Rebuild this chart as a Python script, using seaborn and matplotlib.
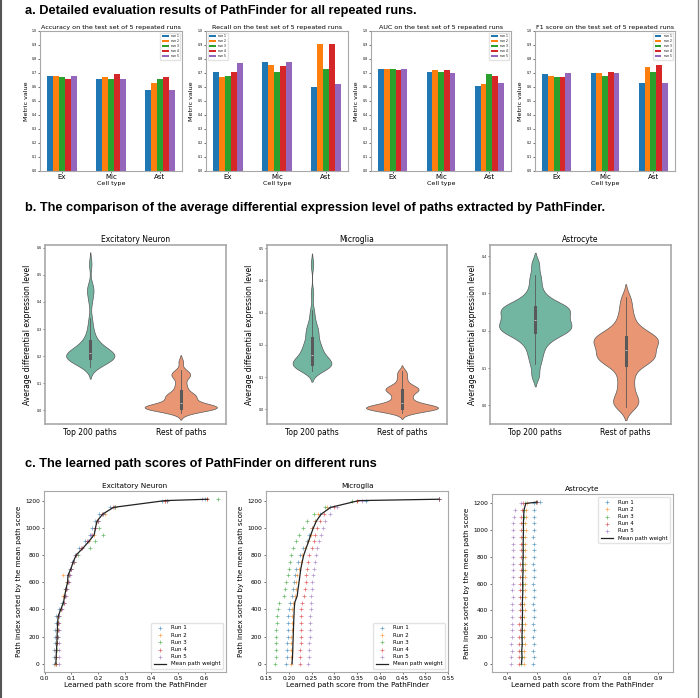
import numpy as np
import pandas as pd
import matplotlib
matplotlib.use("Agg")
import matplotlib.pyplot as plt
import seaborn as sns
from matplotlib.lines import Line2D

# --- data: panel a (bar charts) ---
cell_types = ["Ex", "Mic", "Ast"]
run_names = ["run 1", "run 2", "run 3", "run 4", "run 5"]

accuracy = [[0.68, 0.68, 0.67, 0.66, 0.68],
            [0.66, 0.67, 0.66, 0.69, 0.66],
            [0.58, 0.63, 0.66, 0.67, 0.58]]
recall = [[0.71, 0.67, 0.68, 0.71, 0.77],
          [0.78, 0.76, 0.71, 0.75, 0.78],
          [0.60, 0.91, 0.73, 0.91, 0.62]]
auc = [[0.73, 0.73, 0.73, 0.72, 0.73],
       [0.71, 0.72, 0.71, 0.72, 0.70],
       [0.61, 0.62, 0.69, 0.68, 0.63]]
f1 = [[0.69, 0.68, 0.67, 0.67, 0.70],
      [0.70, 0.70, 0.68, 0.71, 0.70],
      [0.63, 0.74, 0.71, 0.76, 0.63]]

# --- data: panel b (violins) ---
violin_groups = ["Top 200 paths", "Rest of paths"]
ex_top = [0.160, 0.165, 0.170, 0.174, 0.178, 0.181, 0.184, 0.187, 0.190, 0.192,
          0.194, 0.196, 0.198, 0.200, 0.201, 0.203, 0.205, 0.207, 0.209, 0.211,
          0.213, 0.216, 0.219, 0.222, 0.226, 0.230, 0.235, 0.240, 0.246, 0.252,
          0.262, 0.275, 0.290, 0.310, 0.340, 0.400, 0.430, 0.445, 0.460, 0.540]
ex_rest = [-0.010, -0.005, 0.000, 0.002, 0.004, 0.005, 0.006, 0.008, 0.009, 0.010,
           0.011, 0.012, 0.013, 0.014, 0.015, 0.016, 0.018, 0.020, 0.022, 0.025,
           0.030, 0.035, 0.040, 0.045, 0.050, 0.052, 0.055, 0.058, 0.062, 0.070,
           0.080, 0.090, 0.100, 0.115, 0.125, 0.130, 0.135, 0.140, 0.150, 0.180]
mic_top = [0.120, 0.123, 0.126, 0.128, 0.130, 0.132, 0.134, 0.136, 0.138, 0.140,
           0.142, 0.144, 0.146, 0.148, 0.150, 0.153, 0.156, 0.159, 0.162, 0.166,
           0.170, 0.175, 0.180, 0.185, 0.190, 0.195, 0.200, 0.205, 0.210, 0.220,
           0.230, 0.240, 0.240, 0.250, 0.260, 0.270, 0.290, 0.310, 0.360, 0.450]
mic_rest = [-0.012, -0.008, -0.005, -0.003, 0.000, 0.000, 0.001, 0.002, 0.003, 0.004,
            0.005, 0.006, 0.007, 0.008, 0.009, 0.010, 0.012, 0.014, 0.016, 0.018,
            0.020, 0.025, 0.030, 0.035, 0.040, 0.045, 0.050, 0.055, 0.058, 0.060,
            0.062, 0.065, 0.068, 0.070, 0.075, 0.080, 0.090, 0.100, 0.110, 0.120]
ast_top = [0.080, 0.110, 0.130, 0.145, 0.160, 0.170, 0.178, 0.185, 0.190, 0.195,
           0.198, 0.200, 0.203, 0.206, 0.210, 0.213, 0.216, 0.220, 0.223, 0.226,
           0.230, 0.234, 0.238, 0.242, 0.246, 0.250, 0.253, 0.256, 0.259, 0.262,
           0.265, 0.268, 0.272, 0.278, 0.285, 0.295, 0.310, 0.330, 0.350, 0.380]
ast_rest = [-0.005, 0.000, 0.008, 0.015, 0.025, 0.040, 0.055, 0.070, 0.085, 0.100,
            0.110, 0.115, 0.118, 0.122, 0.126, 0.130, 0.133, 0.136, 0.140, 0.145,
            0.150, 0.155, 0.160, 0.165, 0.168, 0.171, 0.174, 0.177, 0.180, 0.183,
            0.186, 0.190, 0.195, 0.200, 0.210, 0.220, 0.235, 0.250, 0.270, 0.290]

# --- data: panel c (path scores per run) ---
path_idx = [0, 50, 100, 150, 200, 250, 300, 350, 400, 450, 500, 550, 600,
            650, 700, 750, 800, 850, 900, 950, 1000, 1050, 1100, 1150, 1200, 1210]

ex_runs = [
    [0.033, 0.034, 0.036, 0.037, 0.039, 0.040, 0.041, 0.043, 0.052, 0.066, 0.072, 0.076, 0.082,
     0.088, 0.095, 0.102, 0.112, 0.130, 0.150, 0.170, 0.178, 0.188, 0.205, 0.245, 0.440, 0.600],
    [0.040, 0.041, 0.042, 0.044, 0.046, 0.047, 0.048, 0.050, 0.060, 0.072, 0.068, 0.080, 0.085,
     0.070, 0.098, 0.108, 0.118, 0.140, 0.165, 0.185, 0.190, 0.195, 0.225, 0.262, 0.450, 0.610],
    [0.042, 0.043, 0.044, 0.046, 0.048, 0.049, 0.050, 0.052, 0.062, 0.070, 0.077, 0.080, 0.086,
     0.092, 0.100, 0.110, 0.125, 0.170, 0.190, 0.220, 0.205, 0.200, 0.220, 0.265, 0.460, 0.650],
    [0.041, 0.042, 0.043, 0.045, 0.047, 0.048, 0.049, 0.051, 0.061, 0.071, 0.076, 0.079, 0.086,
     0.091, 0.098, 0.106, 0.116, 0.135, 0.160, 0.178, 0.188, 0.198, 0.215, 0.255, 0.450, 0.610],
    [0.052, 0.053, 0.054, 0.055, 0.050, 0.052, 0.053, 0.055, 0.065, 0.071, 0.080, 0.083, 0.089,
     0.094, 0.100, 0.108, 0.118, 0.140, 0.162, 0.175, 0.190, 0.200, 0.220, 0.260, 0.460, 0.590],
]
mic_runs = [
    [0.195, 0.196, 0.197, 0.197, 0.198, 0.198, 0.199, 0.199, 0.200, 0.202, 0.208, 0.210, 0.212,
     0.214, 0.216, 0.220, 0.225, 0.232, 0.240, 0.245, 0.250, 0.258, 0.268, 0.290, 0.370, 0.530],
    [0.204, 0.205, 0.205, 0.206, 0.206, 0.207, 0.207, 0.208, 0.208, 0.209, 0.213, 0.215, 0.217,
     0.219, 0.222, 0.226, 0.230, 0.236, 0.242, 0.248, 0.252, 0.258, 0.265, 0.285, 0.350, 0.530],
    [0.170, 0.171, 0.172, 0.172, 0.173, 0.173, 0.174, 0.175, 0.176, 0.178, 0.190, 0.192, 0.195,
     0.198, 0.200, 0.203, 0.205, 0.210, 0.215, 0.222, 0.232, 0.240, 0.255, 0.280, 0.340, 0.530],
    [0.224, 0.225, 0.225, 0.226, 0.226, 0.227, 0.227, 0.228, 0.228, 0.229, 0.233, 0.235, 0.237,
     0.238, 0.240, 0.242, 0.245, 0.250, 0.255, 0.258, 0.262, 0.268, 0.278, 0.300, 0.350, 0.530],
    [0.243, 0.244, 0.245, 0.245, 0.246, 0.246, 0.247, 0.247, 0.248, 0.248, 0.249, 0.250, 0.252,
     0.254, 0.255, 0.257, 0.260, 0.263, 0.266, 0.270, 0.275, 0.280, 0.290, 0.305, 0.360, 0.530],
]
ast_runs = [
    [0.486, 0.488, 0.487, 0.489, 0.486, 0.488, 0.487, 0.489, 0.488, 0.486, 0.488, 0.489, 0.487,
     0.488, 0.489, 0.487, 0.488, 0.489, 0.488, 0.487, 0.489, 0.488, 0.489, 0.488, 0.490, 0.510],
    [0.455, 0.457, 0.456, 0.458, 0.457, 0.456, 0.458, 0.457, 0.459, 0.457, 0.458, 0.460, 0.458,
     0.459, 0.460, 0.459, 0.460, 0.461, 0.460, 0.461, 0.462, 0.461, 0.462, 0.463, 0.465, 0.500],
    [0.447, 0.448, 0.447, 0.449, 0.448, 0.449, 0.450, 0.449, 0.450, 0.451, 0.450, 0.451, 0.452,
     0.451, 0.452, 0.452, 0.453, 0.452, 0.453, 0.454, 0.453, 0.454, 0.455, 0.455, 0.458, 0.495],
    [0.438, 0.440, 0.439, 0.441, 0.440, 0.442, 0.441, 0.442, 0.443, 0.442, 0.443, 0.444, 0.443,
     0.444, 0.445, 0.444, 0.445, 0.446, 0.445, 0.446, 0.447, 0.446, 0.447, 0.448, 0.452, 0.495],
    [0.413, 0.414, 0.415, 0.414, 0.416, 0.415, 0.416, 0.417, 0.416, 0.417, 0.418, 0.417, 0.418,
     0.419, 0.418, 0.419, 0.420, 0.419, 0.420, 0.421, 0.420, 0.421, 0.422, 0.425, 0.445, 0.500],
]

W, H = 700, 698
tab = sns.color_palette("tab10", 5)
SPINE = "#a8a8a8"
TITLE_FONT = ["Liberation Sans", "DejaVu Sans"]

plt.rcParams["font.family"] = "DejaVu Sans"
fig = plt.figure(figsize=(W / 100, H / 100), dpi=100)


def px_axes(left, top, right, bottom):
    return fig.add_axes([left / W, 1 - bottom / H, (right - left) / W, (bottom - top) / H])


def style_spines(ax, lw=0.8):
    for s in ax.spines.values():
        s.set_color(SPINE)
        s.set_linewidth(lw)


# ---------------- panel a ----------------
fig.text(25 / W, 1 - 11 / H, "a. Detailed evaluation results of PathFinder for all repeated runs.",
         fontsize=9.2, fontweight="bold", family=TITLE_FONT, va="center", ha="left")

bar_specs = [("Accuracy on the test set of 5 repeated runs", accuracy, (40, 182), "upper right"),
             ("Recall on the test set of 5 repeated runs", recall, (206, 348), "upper left"),
             ("AUC on the test set of 5 repeated runs", auc, (371, 511), "upper right"),
             ("F1 score on the test set of 5 repeated runs", f1, (535, 675), "upper right")]

for title, vals, (l, r), loc in bar_specs:
    ax = px_axes(l, 31, r, 171)
    rows = [{"cell": c, "run": run_names[j], "value": vals[i][j]}
            for i, c in enumerate(cell_types) for j in range(5)]
    df = pd.DataFrame(rows)
    sns.barplot(data=df, x="cell", y="value", hue="run", palette=tab, width=0.6,
                saturation=1, errorbar=None, ax=ax)
    ax.set_xlim(-0.45, 2.45)
    ax.set_ylim(0, 1.0)
    ax.set_yticks(np.arange(0, 1.01, 0.1))
    ax.set_yticklabels([f"{v:.1f}" for v in np.arange(0, 1.01, 0.1)])
    ax.tick_params(axis="y", labelsize=2.3, length=1.5, width=0.4, pad=1)
    ax.tick_params(axis="x", labelsize=5, length=1.5, width=0.4, pad=1)
    ax.set_title(title, fontsize=4.6, pad=1.5)
    ax.set_xlabel("Cell type", fontsize=4.6, labelpad=0.5)
    ax.set_ylabel("Metric value", fontsize=4.6, labelpad=2)
    ax.legend(loc=loc, fontsize=2.2, handlelength=2.2, handleheight=0.8, borderpad=0.5,
              labelspacing=0.35, frameon=True, edgecolor="#dddddd", fancybox=True)
    style_spines(ax)

# ---------------- panel b ----------------
fig.text(25 / W, 1 - 208 / H,
         "b. The comparison of the average differential expression level of paths extracted by PathFinder.",
         fontsize=9.2, fontweight="bold", family=TITLE_FONT, va="center", ha="left")

violin_specs = [("Excitatory Neuron", ex_top, ex_rest, (45, 226), (-0.05, 0.61)),
                ("Microglia", mic_top, mic_rest, (267, 447), (-0.045, 0.51)),
                ("Astrocyte", ast_top, ast_rest, (490, 671), (-0.05, 0.43))]

for title, top, rest, (l, r), ylim in violin_specs:
    ax = px_axes(l, 245, r, 424)
    df = pd.DataFrame({"group": [violin_groups[0]] * len(top) + [violin_groups[1]] * len(rest),
                       "value": top + rest})
    sns.violinplot(data=df, x="group", y="value", hue="group", palette="Set2",
                   bw_adjust=0.5, linewidth=0.5, legend=False, common_norm=True, ax=ax,
                   inner_kws=dict(box_width=2.2, whis_width=0.6))
    ax.set_ylim(*ylim)
    ticks = np.arange(0, ylim[1], 0.1)
    ax.set_yticks(ticks)
    ax.set_yticklabels([f"{t:.1f}" for t in ticks])
    ax.tick_params(axis="y", labelsize=2.3, length=1.5, width=0.4, pad=1)
    ax.tick_params(axis="x", labelsize=5.5, length=0, pad=3)
    ax.set_title(title, fontsize=5.5, pad=2)
    ax.set_xlabel("")
    ax.set_ylabel("Average differential expression level", fontsize=5.5, labelpad=3)
    style_spines(ax, lw=1.2)

# ---------------- panel c ----------------
fig.text(25 / W, 1 - 464 / H, "c. The learned path scores of PathFinder on different runs",
         fontsize=9.2, fontweight="bold", family=TITLE_FONT, va="center", ha="left")

scatter_specs = [("Excitatory Neuron", ex_runs, (44, 491, 226), (-0.003, 0.68),
                  np.arange(0, 0.61, 0.1), "lower right"),
                 ("Microglia", mic_runs, (266, 491, 448), (0.15, 0.55),
                  np.arange(0.15, 0.551, 0.05), "lower right"),
                 ("Astrocyte", ast_runs, (492, 494, 673), (0.35, 0.95),
                  np.arange(0.4, 0.91, 0.1), "upper right")]

for title, runs, (l, t, r), xlim, xticks, loc in scatter_specs:
    ax = px_axes(l, t, r, 672)
    for k, vals in enumerate(runs):
        sns.scatterplot(x=vals, y=path_idx, marker="+", s=7, color=tab[k], alpha=0.7,
                        linewidth=0.5, label=f"Run {k + 1}", ax=ax)
    mean_score = np.mean(np.array(runs), axis=0)
    ax.plot(mean_score, path_idx, color="#222222", lw=0.9, label="Mean path weight")
    ax.set_xlim(*xlim)
    ax.set_xticks(np.round(xticks, 2))
    ax.tick_params(labelsize=4.2, length=1.5, width=0.4, pad=1.5)
    ax.set_title(title, fontsize=5.2, pad=2)
    ax.set_xlabel("Learned path score from the PathFinder", fontsize=5.2, labelpad=0.5)
    ax.set_ylabel("Path index sorted by the mean path score", fontsize=5.2, labelpad=2)
    ax.legend(loc=loc, fontsize=4, markerscale=1.0, handlelength=2.2, labelspacing=0.4,
              borderpad=0.5, edgecolor="#dddddd")
    style_spines(ax)

# frame lines at left and right edge
fig.add_artist(Line2D([1 / W, 1 / W], [0, 1], color="#555555", lw=1.5))
fig.add_artist(Line2D([1 - 2 / W, 1 - 2 / W], [0, 1], color="#888888", lw=1.0))

fig.savefig("out.png", dpi=100)
